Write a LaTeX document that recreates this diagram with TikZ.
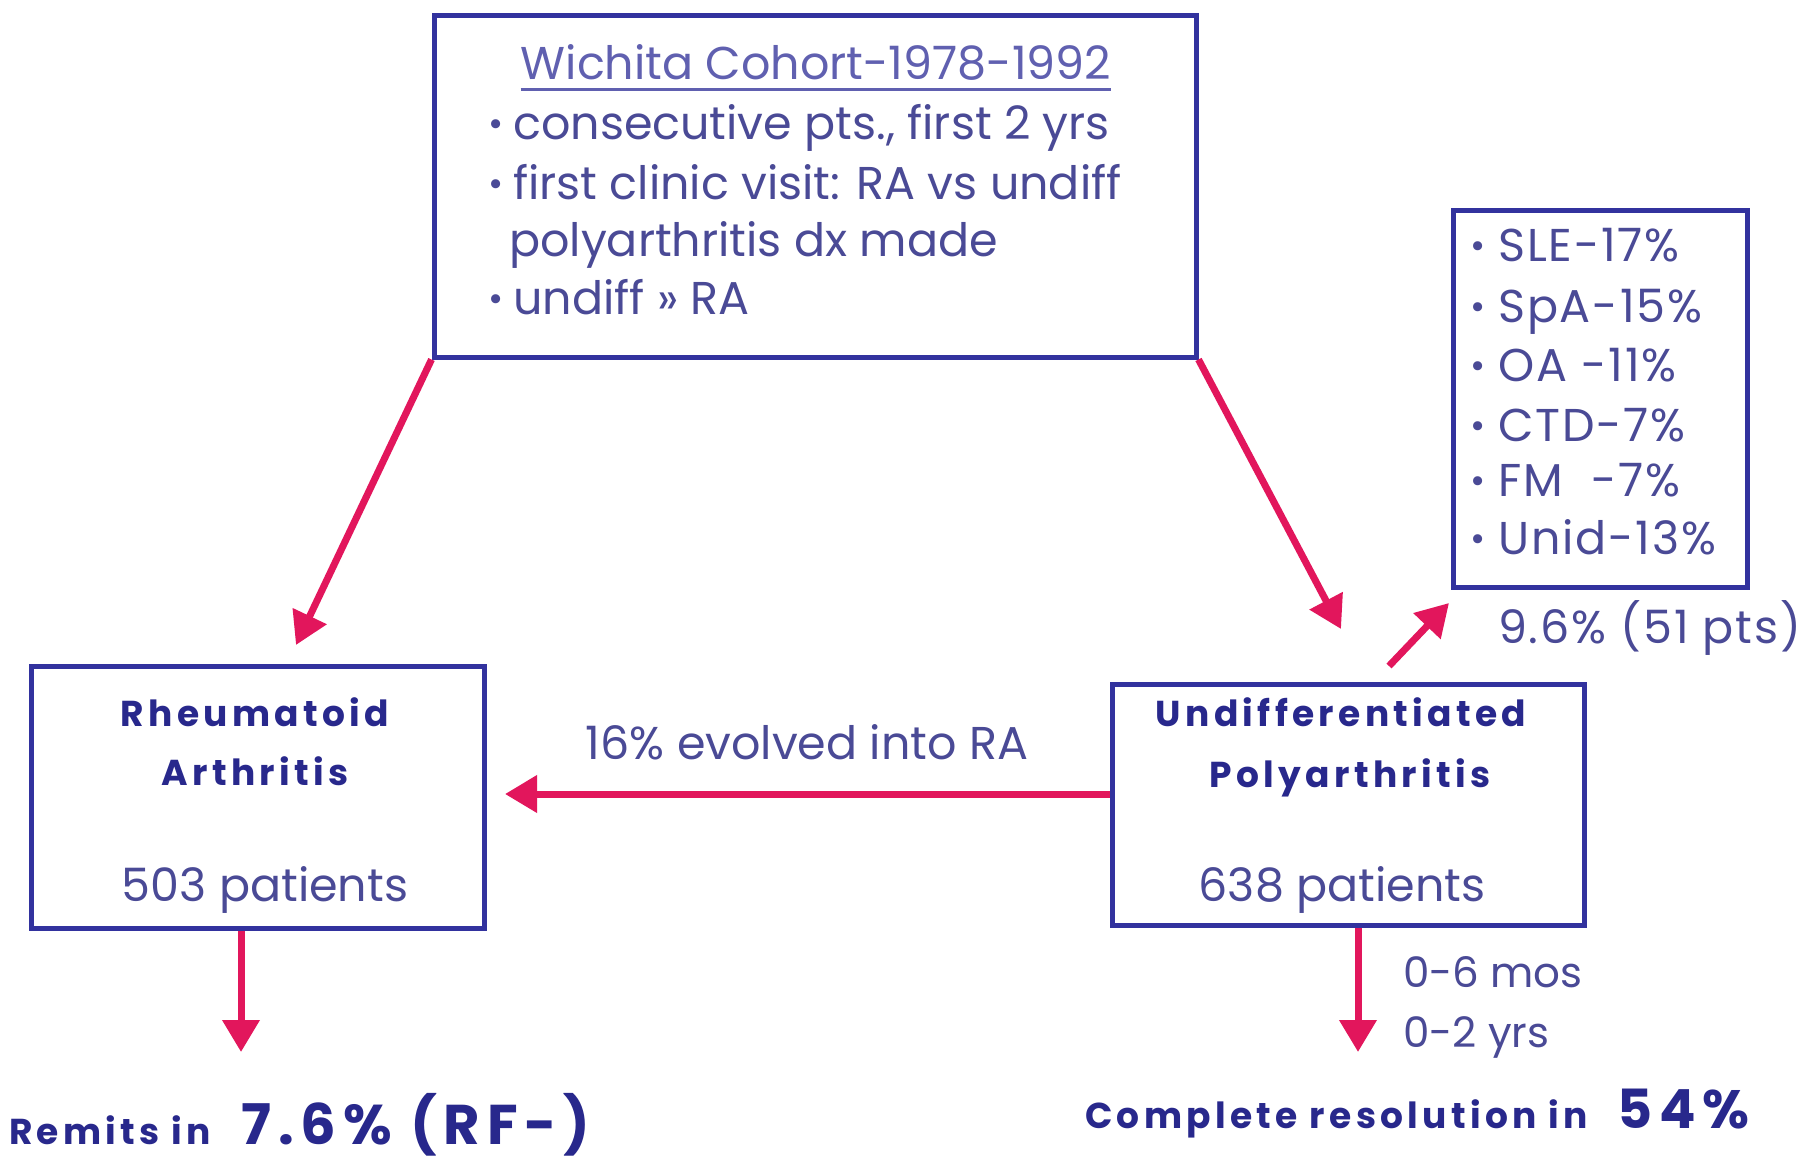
\documentclass[tikz,border=0pt]{standalone}
\usepackage{fontspec}
\usepackage{graphicx}
\setmainfont{Poppins}
\newfontfamily\spacedbold[LetterSpace=12]{Poppins Bold}
\newfontfamily\widetext[LetterSpace=4]{Poppins}
\usetikzlibrary{arrows.meta}

\definecolor{boxblue}{RGB}{50,50,158}
\definecolor{txtblue}{RGB}{74,74,150}
\definecolor{titleblue}{RGB}{96,96,176}
\definecolor{navy}{RGB}{40,40,140}
\definecolor{arrowred}{RGB}{226,22,92}

\newcommand{\bul}[1]{\makebox[#1][l]{\raisebox{0.08em}{\scalebox{0.8}{\textbullet}}}}

\tikzset{
  panel/.style={draw=boxblue, line width=5pt, fill=white, inner sep=0pt},
  flow/.style={draw=arrowred, line width=7pt, -{Triangle[length=32pt,width=36pt]}},
  body/.style={text=txtblue, font=\fontsize{46}{54}\selectfont, inner sep=0pt},
  listtxt/.style={text=txtblue, font=\widetext\fontsize{46}{54}\selectfont, inner sep=0pt},
  heading/.style={text=navy, font=\spacedbold\fontsize{36}{42}\selectfont, inner sep=0pt},
  count/.style={text=txtblue, font=\fontsize{46}{54}\selectfont, inner sep=0pt},
  outcome/.style={text=navy, font=\spacedbold\fontsize{36}{42}\selectfont, inner sep=0pt},
}

\begin{document}
\begin{tikzpicture}[x=1pt, y=-1pt]
\useasboundingbox[fill=white] (0,0) rectangle (1800,1164);

% boxes
\node[panel, minimum width=762pt, minimum height=341pt] (cohort) at (815,186.5) {};
\node[panel, minimum width=294pt, minimum height=377pt] (dx) at (1600,398.5) {};
\node[panel, minimum width=453pt, minimum height=262pt] (ra) at (257.5,797) {};
\node[panel, minimum width=472pt, minimum height=241pt] (up) at (1348,804.5) {};

% cohort description
\node[body, text=titleblue, anchor=mid] (title) at (816,77) {Wichita Cohort-1978-1992};
\draw[titleblue, line width=2.5pt] ([yshift=-10pt]title.base west) -- ([yshift=-10pt]title.base east);
\node[body, anchor=mid west] (l1) at (488,137) {\bul{25pt}consecutive pts., first 2 yrs};
\node[body, anchor=mid west] (l2) at (488,197) {\bul{25pt}first clinic visit: RA vs undiff};
\node[body, anchor=mid west] (l3) at (509,254) {polyarthritis dx made};
\node[body, anchor=mid west] (l4) at (488,312) {\bul{25pt}undiff >> RA};

% alternative diagnoses
\node[listtxt, anchor=mid west] (d1) at (1470,259) {\bul{28pt}SLE-17\%};
\node[listtxt, anchor=mid west] (d2) at (1470,320) {\bul{28pt}SpA-15\%};
\node[listtxt, anchor=mid west] (d3) at (1470,379) {\bul{28pt}OA -11\%};
\node[listtxt, anchor=mid west] (d4) at (1470,439) {\bul{28pt}CTD-7\%};
\node[listtxt, anchor=mid west] (d5) at (1470,494) {\bul{28pt}FM \ -7\%};
\node[listtxt, anchor=mid west] (d6) at (1470,552) {\bul{28pt}Unid-13\%};
\node[listtxt, anchor=mid west] (share) at (1498,641) {9.6\% (51 pts)};

% group boxes
\node[heading, anchor=mid] (ra1) at (255,724) {Rheumatoid};
\node[heading, anchor=mid] (ra2) at (255,783) {Arthritis};
\node[count, anchor=mid] (ra3) at (265,899) {503 patients};
\node[heading, anchor=mid] (up1) at (1341,724) {Undifferentiated};
\node[heading, anchor=mid] (up2) at (1350,785) {Polyarthritis};
\node[count, anchor=mid] (up3) at (1342,899) {638 patients};

% labels on connectors
\node[count, anchor=mid] (evolve) at (807,757) {16\% evolved into RA};
\node[count, font=\fontsize{42}{50}\selectfont, anchor=mid west] (t1) at (1403,985) {0-6 mos};
\node[count, font=\fontsize{42}{50}\selectfont, anchor=mid west] (t2) at (1403,1045) {0-2 yrs};

% outcomes
\node[outcome, anchor=base west] (remit) at (9,1144) {Remits in {\fontsize{56}{64}\selectfont\ 7.6\% (RF-)}};
\node[outcome, anchor=base west] (resol) at (1085,1128) {Complete resolution in {\fontsize{54}{62}\selectfont\ 54\%}};

% connectors
\coordinate (raTip) at (296,645);
\coordinate (upTip) at (1341,629);
\coordinate (dxTail) at (1389,666);
\coordinate (dxTip) at (1449,603);
\coordinate (evolveTip) at (505,794);
\coordinate (remitTip) at (241,1052);
\coordinate (resolTip) at (1358,1052);

\draw[flow] (cohort.south west) -- (raTip);
\draw[flow] (cohort.south east) -- (upTip);
\draw[flow] (dxTail) -- (dxTip);
\draw[flow] ([yshift=10.5pt]up.west) -- (evolveTip);
\draw[flow] ([xshift=-16.5pt]ra.south) -- (remitTip);
\draw[flow] ([xshift=10pt]up.south) -- (resolTip);
\end{tikzpicture}
\end{document}
